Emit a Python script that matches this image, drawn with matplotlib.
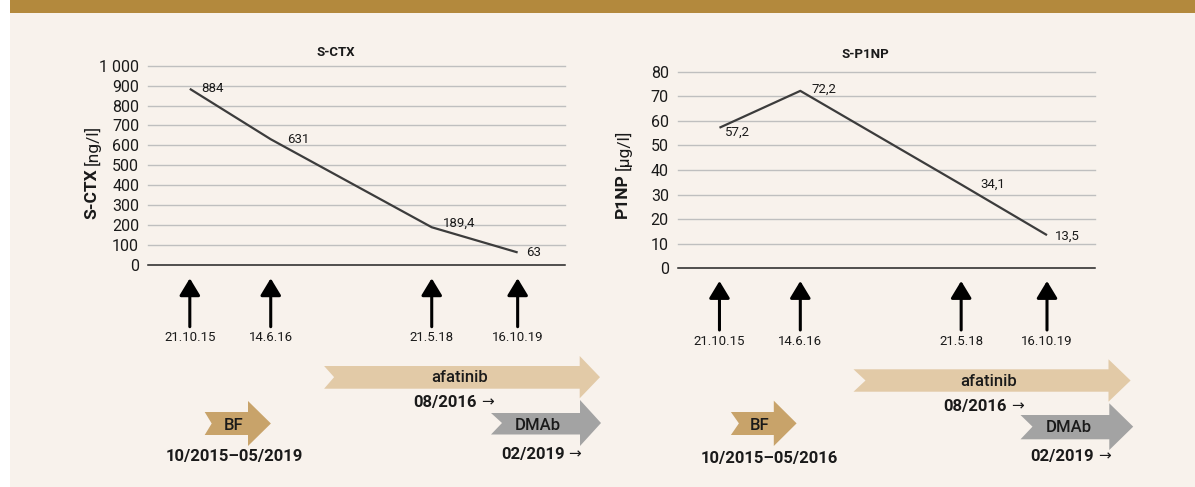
import matplotlib
matplotlib.use("Agg")
import matplotlib.pyplot as plt
from matplotlib.patches import Polygon, Rectangle

plt.rcParams['font.family'] = ['Roboto', 'DejaVu Sans']

W, H = 1195, 487

# sampling dates and their place along the timeline (fraction of plot width)
dates = ['21.10.15', '14.6.16', '21.5.18', '16.10.19']
x_pos = [0.10, 0.294, 0.68, 0.886]

ctx_vals = [884, 631, 189.4, 63]
p1np_vals = [57.2, 72.2, 34.1, 13.5]

ctx_ticks = [0, 100, 200, 300, 400, 500, 600, 700, 800, 900, 1000]
ctx_ticklabels = ['0', '100', '200', '300', '400', '500', '600', '700', '800', '900', '1 000']
p1np_ticks = [0, 10, 20, 30, 40, 50, 60, 70, 80]

BG = '#F8F2EC'
BAND = '#B3893D'
LINE = '#3C3C3C'
GRID = '#BFBFBF'
C_AFA = '#E2CAA7'
C_BF = '#C8A36A'
C_DMAB = '#A3A3A3'
TXT = '#1A1A1A'


def fx(px):
    return px / W


def fy(py):
    # py measured from the top of the picture
    return 1 - py / H


def fmt(v):
    return f"{v:g}".replace('.', ',')


fig = plt.figure(figsize=(W / 100, H / 100), dpi=100)
fig.patch.set_facecolor('white')
fig.patches.append(Rectangle((fx(10), 0), 1 - fx(10), 1, transform=fig.transFigure,
                             facecolor=BG, edgecolor='none', zorder=-10))
fig.patches.append(Rectangle((fx(10), fy(13)), 1 - fx(10), fy(0) - fy(13),
                             transform=fig.transFigure, facecolor=BAND,
                             edgecolor='none', zorder=-9))


def draw_panel(rect, vals, ticks, ticklabels, ymax, title, title_xy,
               lab_offsets, arrow_y, date_y, ylab, ylab_x, ylab_split):
    ax = fig.add_axes(rect)
    ax.set_facecolor('none')
    ax.plot(x_pos, vals, color=LINE, lw=1.6, solid_capstyle='butt', zorder=3)
    ax.set_xlim(0, 1)
    ax.set_ylim(0, ymax)
    ax.set_yticks(ticks)
    ax.set_yticklabels(ticklabels)
    ax.set_xticks([])
    for s in ax.spines.values():
        s.set_visible(False)
    ax.tick_params(axis='y', length=0, pad=6.5, labelsize=11.5, labelcolor=TXT)
    for t in ticks[1:]:
        ax.axhline(t, color=GRID, lw=1.0, zorder=1, clip_on=False)
    ax.axhline(0, color='#222222', lw=1.1, zorder=2, clip_on=False)

    for x, v, (dx, dy) in zip(x_pos, vals, lab_offsets):
        ax.annotate(fmt(v), xy=(x, v), xytext=(dx, dy), textcoords='offset pixels',
                    ha='left', va='center', fontsize=9.5, color=TXT)

    # event arrows below the plot
    for x, d in zip(x_pos, dates):
        ax.annotate('', xy=(x, H - arrow_y[0]), xytext=(x, H - arrow_y[1]),
                    xycoords=('data', 'figure pixels'),
                    textcoords=('data', 'figure pixels'),
                    arrowprops=dict(arrowstyle='-|>,head_length=1.04,head_width=0.63',
                                    mutation_scale=10, color='black', lw=2.2,
                                    shrinkA=0, shrinkB=0),
                    annotation_clip=False)
        ax.annotate(d, xy=(x, H - date_y), xycoords=('data', 'figure pixels'),
                    ha='center', va='center', fontsize=9.5, color=TXT,
                    annotation_clip=False)

    fig.text(fx(title_xy[0]), fy(title_xy[1]), title, ha='center', va='center',
             fontsize=9.5, fontweight='bold', color=TXT)
    fig.text(fx(ylab_x), fy(ylab_split + 1.5), ylab[0], rotation=90, ha='center',
             va='top', fontsize=12.5, fontweight='bold', color=TXT)
    fig.text(fx(ylab_x), fy(ylab_split - 1.5), ylab[1], rotation=90, ha='center',
             va='bottom', fontsize=12.5, color=TXT)
    return ax


def therapy_arrow(x0, x1, xh, body, head, notch, color):
    bt, bb = body
    ht, hb = head
    ym = (ht + hb) / 2
    pts = [(x0, bt), (xh, bt), (xh, ht), (x1, ym), (xh, hb), (xh, bb), (x0, bb),
           (x0 + notch, ym)]
    fig.patches.append(Polygon([(fx(a), fy(b)) for a, b in pts], closed=True,
                               transform=fig.transFigure, facecolor=color,
                               edgecolor='none', zorder=1))


def label(x, y, s, size=12, weight='medium'):
    fig.text(fx(x), fy(y), s, ha='center', va='center', fontsize=size,
             fontweight=weight, color=TXT)


def start_label(x, y, s):
    # bold start date followed by a thin open-ended arrow
    fig.text(fx(x + 23), fy(y), s, ha='right', va='center', fontsize=12,
             fontweight='bold', color=TXT)
    fig.text(fx(x + 27), fy(y), '→', ha='left', va='center', fontsize=11,
             color=TXT)


# left panel: S-CTX
draw_panel([fx(148.1), fy(265), fx(565.2) - fx(148.1), fy(65.7) - fy(265)],
           ctx_vals, ctx_ticks, ctx_ticklabels, 1000, 'S-CTX', (335.6, 52),
           [(11.5, 0), (16, 0), (11.5, 4), (8.5, 0)],
           (278.3, 326.7), 337.3, ('S-CTX', '[ng/l]'), 92, 166.5)

# right panel: S-P1NP
draw_panel([fx(677.8), fy(268.3), fx(1094.5) - fx(677.8), fy(71.7) - fy(268.3)],
           p1np_vals, p1np_ticks, [str(t) for t in p1np_ticks], 80, 'S-P1NP',
           (865.7, 54),
           [(5.7, -5), (11.4, 1.5), (19, 0.5), (7.6, -1.5)],
           (281, 330), 341.7, ('P1NP', '[µg/l]'), 622.8, 171.5)

# therapy bars, left
therapy_arrow(324.1, 600, 579.7, (366, 388.7), (356, 398.3), 10, C_AFA)
label(459.2, 378, 'afatinib')
start_label(454, 402, '08/2016')
therapy_arrow(204.7, 270.9, 248, (412, 435), (401, 446), 7, C_BF)
label(233.4, 425, 'BF')
label(234, 456.7, '10/2015–05/2019', weight='bold')
therapy_arrow(491, 601, 580, (413, 434.5), (400, 446), 11, C_DMAB)
label(537.7, 425, 'DMAb')
start_label(541.5, 454, '02/2019')

# therapy bars, right
therapy_arrow(853.5, 1130.6, 1108.5, (369.3, 391.7), (359.3, 401.7), 12, C_AFA)
label(989, 382, 'afatinib')
start_label(984, 406, '08/2016')
therapy_arrow(730.9, 796.6, 773.8, (412, 435), (400.7, 446), 8, C_BF)
label(759.4, 425, 'BF')
label(769.6, 458, '10/2015–05/2016', weight='bold')
therapy_arrow(1020.5, 1133.2, 1109.3, (415, 439.3), (403.3, 450), 12, C_DMAB)
label(1068.7, 427.7, 'DMAb')
start_label(1071.3, 456.7, '02/2019')

fig.savefig('out.png', dpi=100, facecolor=fig.get_facecolor())
